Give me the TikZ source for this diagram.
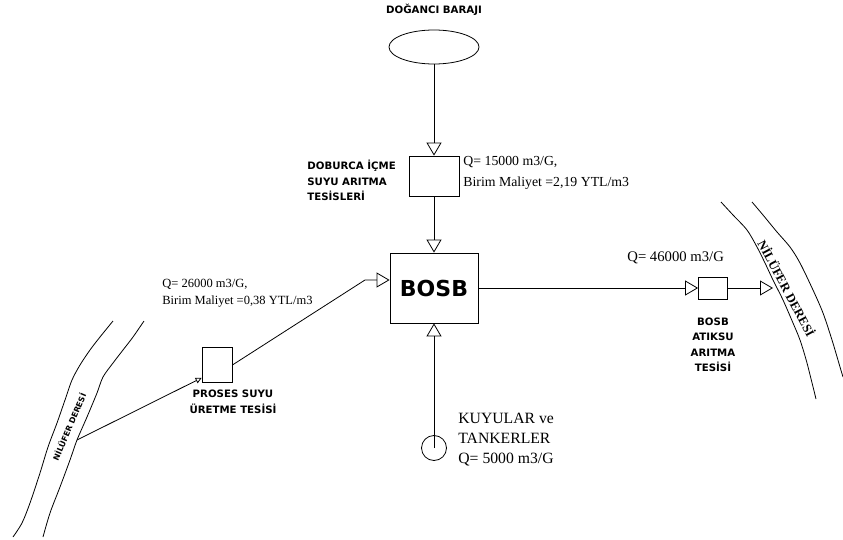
\documentclass[tikz,border=0pt]{standalone}
\usepackage{fontspec}
\setmainfont{Liberation Serif}
\setsansfont{DejaVu Sans}
\usetikzlibrary{shapes.geometric, arrows.meta, positioning, calc}

\begin{document}
\begin{tikzpicture}[
	x=1pt, y=-1pt,
	line width=0.8pt,
	unit/.style={rectangle, draw=black, inner sep=0pt},
	tag/.style={font=\sffamily\bfseries\fontsize{10.2}{15.5}\selectfont, inner sep=0pt},
	data/.style={font=\fontsize{13.8}{20.5}\selectfont, inner sep=0pt, align=left},
	flow/.style={-{Triangle[open, length=13pt, width=15pt]}},
	feed/.style={-{Triangle[open, length=6pt, width=6pt]}}
]
\useasboundingbox (0,0) rectangle (843,540);

% Dam and drinking water plant
\node[draw, ellipse, minimum width=90pt, minimum height=34pt] (baraj) at (434,47) {};
\node[tag, above=14pt of baraj] (barajad) {DOĞANCI BARAJI};
\node[unit, minimum width=50pt, minimum height=40pt] (icme) at (434,176) {};
\node[tag, align=left, anchor=north west] (icmead) at (307,160) {DOBURCA İÇME\\SUYU ARITMA\\TESİSLERİ};
\node[data, anchor=north west] (icmeq) at (463,156) {Q= 15000 m3/G,\\Birim Maliyet =2,19 YTL/m3};

% Industrial zone
\node[unit, minimum width=88pt, minimum height=70pt, font=\sffamily\bfseries\fontsize{22}{22}\selectfont] (bosb) at (434,288) {BOSB};

% Process water plant
\node[unit, minimum width=30pt, minimum height=35pt] (proses) at (217,365) {};
\node[tag, align=center, anchor=north] (prosesad) at (233,390) {PROSES SUYU\\ÜRETME TESİSİ};
\node[data, font=\fontsize{12.5}{17}\selectfont, anchor=north west] (prosesq) at (162,279) {Q= 26000 m3/G,\\Birim Maliyet =0,38 YTL/m3};

% Waste water plant
\node[unit, minimum width=29pt, minimum height=22pt] (atik) at (713,288) {};
\node[tag, align=center, below=18pt of atik] (atikad) {BOSB\\ATIKSU\\ARITMA\\TESİSİ};
\node[data, font=\fontsize{14.7}{17}\selectfont, anchor=north west] (atikq) at (627,251) {Q= 46000 m3/G};

% Wells and tankers
\node[draw, circle, minimum size=25pt, inner sep=0pt] (kuyu) at (434,448) {};
\node[data, font=\fontsize{15.7}{20}\selectfont, anchor=north west] (kuyuad) at (458,413) {KUYULAR ve\\TANKERLER\\Q= 5000 m3/G};

% Nilufer stream, right
\draw plot[smooth] coordinates {(721,202) (733,215) (747,230) (757,247) (765,263) (773,280) (783,300) (793,323) (800,340) (807,363) (816,399)};
\draw plot[smooth] coordinates {(752,202) (763,215) (777,232) (790,247) (800,263) (813,290) (823,313) (832,340) (840,367) (843,377)};
\node[font=\bfseries\fontsize{12.6}{12.6}\selectfont, rotate=-62, inner sep=0pt] (nilsagad) at (787,288) {NİLÜFER DERESİ};
\coordinate (nilsag) at (773,288);

% Nilufer stream, left
\draw plot[smooth] coordinates {(113,321) (100,337) (90,350) (80,365) (72,380) (65,400) (57,423) (48,447) (40,473) (30,503) (22,523) (13,537)};
\draw plot[smooth] coordinates {(144,321) (133,337) (123,350) (113,363) (103,377) (97,393) (87,417) (77,440) (70,460) (60,487) (50,513) (43,537)};
\node[font=\sffamily\bfseries\fontsize{7.9}{7.9}\selectfont, rotate=67, inner sep=0pt] (nilsolad) at (69,427) {NİLÜFER DERESİ};
\coordinate (nilsol) at (77,440);

% Flows
\draw[flow] (baraj) -- (icme);
\draw[flow] (icme) -- (bosb);
\draw[flow] (kuyu.center) -- (bosb);
\draw[flow] (bosb) -- (atik);
\draw[flow] (atik) -- (nilsag);
\draw[feed] (nilsol) -- (proses.220);
\coordinate (kirik) at (365,280);
\draw[flow] (proses.east) -- (kirik) -- (kirik -| bosb.west);

\end{tikzpicture}
\end{document}
